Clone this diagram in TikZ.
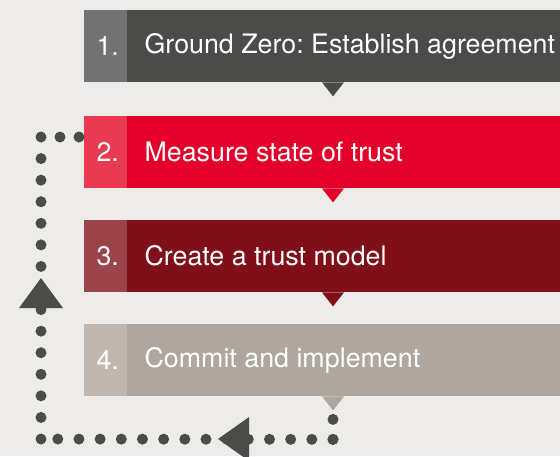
\documentclass[tikz,border=0pt]{standalone}
\usepackage{fontspec}
\setmainfont{TeX Gyre Heros}
\usetikzlibrary{calc}
\definecolor{pageBg}{HTML}{EDECEA}
\definecolor{dotGray}{HTML}{4B4B49}
\definecolor{barGray}{HTML}{4B4B49}
\definecolor{numGray}{HTML}{737373}
\definecolor{barRed}{HTML}{E3002A}
\definecolor{numRed}{HTML}{E83A52}
\definecolor{barWine}{HTML}{7F1019}
\definecolor{numWine}{HTML}{9B434A}
\definecolor{barTaupe}{HTML}{AFA69E}
\definecolor{numTaupe}{HTML}{C0B8B0}
\frenchspacing

\begin{document}
\begin{tikzpicture}[x=1pt,y=-1pt]
\tikzstyle{bar}=[rectangle, inner sep=0pt, minimum width=476pt, minimum height=72pt, anchor=north west]
\tikzstyle{num}=[rectangle, inner sep=0pt, minimum width=43pt, minimum height=72pt, anchor=north west, text=white, font=\fontsize{26.8}{26.8}\selectfont]
\tikzstyle{title}=[anchor=west, inner sep=0pt, text=white, font=\fontsize{26.8}{26.8}\selectfont]
\tikzstyle{dots}=[draw=dotGray, line width=11pt, line cap=round]

\useasboundingbox (0,0) rectangle (560,456);
\fill[pageBg] (0,0) rectangle (560,456);

% the four steps, each with its number box and pointer
\foreach \i/\y/\main/\light/\txt in {%
  1/10/barGray/numGray/{Ground Zero: Establish agreement},
  2/116/barRed/numRed/{Measure state of trust},
  3/220/barWine/numWine/{Create a trust model},
  4/324/barTaupe/numTaupe/{Commit and implement}} {
  \node[bar, fill=\main] (bar\i) at (84,\y) {};
  \node[num, fill=\light] (num\i) at (84,\y) {\hspace*{4pt}\i.};
  \node[title] (title\i) at ($(num\i.east)+(17,0)$) {\txt};
  \fill[\main] ($(bar\i.south west)+(238,0)$) -- ++(22,0) -- ++(-11,14) -- cycle;
}

% dotted loop back from step 4 to step 2
\coordinate (start) at ($(num2.north west)+(-5,21)$);
\coordinate (tl) at ($(num2.north west)+(-43,21)$);
\coordinate (bl) at ($(tl)+(0,302)$);
\coordinate (br) at ($(bar4.south west)+(249,43)$);
\coordinate (end) at ($(bar4.south west)+(249,22)$);

\draw[dots, dash pattern=on 0pt off 19pt] (start) -- (tl);
\draw[dots, dash pattern=on 0pt off 21.57pt] (bl) -- (tl);
\draw[dots, dash pattern=on 0pt off 21.17pt] (br) -- (bl);
\draw[dots, dash pattern=on 0pt off 20pt] (br) -- (end);

% arrow heads on the loop
\fill[dotGray] ($(tl)+(-22,171)$) -- ++(44,0) -- ++(-22,-30) -- cycle;
\fill[dotGray] ($(bl)+(177,0)$) -- ++(31,-22) -- ++(0,44) -- cycle;

\end{tikzpicture}
\end{document}
